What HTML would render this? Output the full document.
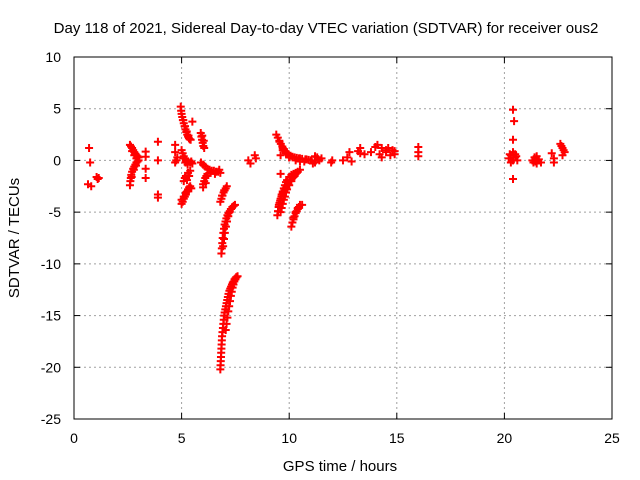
<!DOCTYPE html>
<html><head><meta charset="utf-8"><style>
body{margin:0;background:#fff;}
svg{display:block;font-family:"Liberation Sans",sans-serif;}
</style></head><body>
<svg id="chart" width="640" height="480" viewBox="0 0 640 480" xmlns="http://www.w3.org/2000/svg">
<rect width="640" height="480" fill="#fff"/>
<text x="326" y="33" font-size="15" text-anchor="middle">Day 118 of 2021, Sidereal Day-to-day VTEC variation (SDTVAR) for receiver ous2</text>
<g id="grid"></g>
<g id="axes"></g>
<g id="points"></g>
<text x="340" y="471" font-size="15" text-anchor="middle">GPS time / hours</text>
<text x="0" y="0" font-size="15" text-anchor="middle" transform="translate(19,238) rotate(-90)">SDTVAR / TECUs</text>
</svg>
<script>
const xTicks=[0,5,10,15,20,25];
const yTicks=[10,5,0,-5,-10,-15,-20,-25];
const xs=[0.7,0.75,0.65,0.8,1.1,1.05,1.15,
2.6,2.65,2.7,2.75,2.8,2.85,2.9,2.95,3.0,2.7,2.8,2.9,
2.6,2.62,2.64,2.66,2.7,2.75,2.8,2.85,2.9,2.95,3.0,2.68,2.78,2.88,
3.33,3.33,3.33,3.33,3.9,3.9,3.9,3.9,
4.7,4.7,4.75,4.8,4.7,
4.96,4.98,5.0,5.03,5.06,5.1,5.14,5.18,5.22,5.26,5.3,5.34,5.38,5.42,5.08,5.16,5.24,5.32,
5.0,5.05,5.1,5.15,5.2,5.3,5.4,5.5,5.08,5.18,5.28,5.45,
5.1,5.15,5.2,5.3,5.4,5.25,5.35,
5.0,5.05,5.1,5.15,5.2,5.25,5.3,5.35,5.4,5.0,5.1,5.2,5.3,5.45,
5.5,5.89,5.92,5.95,5.98,6.01,6.05,5.96,6.03,
5.9,6.0,6.1,6.0,6.05,6.1,6.15,6.2,6.0,6.12,
6.2,6.3,6.4,6.5,6.6,6.7,6.8,6.35,6.55,6.75,
6.8,6.85,6.9,6.95,7.0,7.05,7.1,6.88,6.98,
6.85,6.87,6.89,6.91,6.94,6.97,7.0,7.04,7.08,7.13,7.18,7.24,7.3,7.36,7.42,7.48,6.93,6.97,7.01,7.06,7.11,7.17,7.23,7.29,
6.8,6.81,6.82,6.83,6.84,6.85,6.86,6.87,6.88,6.9,6.92,6.94,6.96,6.98,7.0,7.03,7.06,7.09,7.12,7.15,7.18,7.22,7.26,7.3,7.34,7.38,7.42,7.46,7.5,7.55,7.6,
7.05,7.09,7.13,7.17,7.21,7.25,7.29,7.33,7.37,7.41,7.45,7.5,7.54,
8.1,8.2,8.4,8.45,
9.4,9.47,9.54,9.61,9.68,9.75,9.82,9.9,9.98,10.06,10.15,10.25,10.35,10.45,10.6,10.75,10.9,11.05,9.55,9.7,9.85,10.0,10.3,10.5,10.7,
10.0,10.5,11.0,11.2,11.3,11.4,11.5,11.1,11.2,11.35,10.8,
9.45,9.48,9.51,9.55,9.6,9.65,9.7,9.75,9.8,9.85,9.9,10.0,10.1,10.2,10.3,
9.6,9.65,9.7,9.75,9.8,9.85,9.9,10.0,10.1,10.2,10.3,10.4,10.5,
9.52,9.58,9.64,9.7,9.78,9.86,9.95,10.05,10.15,10.25,
10.1,10.15,10.2,10.25,10.3,10.35,10.4,10.45,10.5,10.6,10.2,10.3,10.4,
9.7,9.6,9.6,
12.0,11.95,12.5,12.7,12.8,12.9,13.2,13.3,13.5,13.8,14.0,14.1,14.3,14.5,14.8,14.9,14.3,14.5,14.7,16.0,16.0,16.0,13.3,14.2,14.6,14.9,
20.4,20.45,20.4,20.4,20.2,20.3,20.4,20.5,20.6,20.3,20.5,20.4,20.25,20.55,
21.3,21.4,21.5,21.6,21.7,21.5,21.45,21.55,21.35,
22.2,22.3,22.3,22.6,22.7,22.8,22.7,22.75,22.65];
const ys=[1.2,-0.2,-2.3,-2.5,-1.8,-1.6,-1.7,
1.5,1.35,1.2,1.0,0.8,0.65,0.5,0.4,0.3,0.9,0.5,0.2,
-2.4,-2.0,-1.7,-1.4,-1.1,-0.8,-0.6,-0.4,-0.2,-0.1,0.0,-1.6,-0.9,-0.5,
0.85,0.35,-0.8,-1.7,1.8,0.0,-3.3,-3.6,
1.5,0.8,0.0,0.3,-0.2,
5.2,4.8,4.5,4.2,3.9,3.6,3.3,3.0,2.75,2.5,2.3,2.15,2.05,2.0,3.9,3.3,2.8,2.4,
1.0,0.7,0.4,0.2,0.0,-0.1,-0.2,-0.3,0.2,-0.2,-0.4,-0.1,
-2.0,-1.7,-1.5,-1.2,-1.0,-1.9,-1.5,
-4.2,-4.0,-3.7,-3.5,-3.3,-3.0,-2.8,-2.6,-2.5,-3.8,-3.5,-3.1,-2.9,-2.7,
3.75,2.65,2.3,2.0,1.7,1.4,1.2,2.4,1.9,
-0.2,-0.4,-0.6,-2.3,-2.0,-1.7,-1.5,-1.3,-2.6,-2.2,
-0.8,-0.9,-1.0,-1.0,-1.1,-1.1,-1.2,-1.2,-1.3,-0.9,
-4.0,-3.7,-3.4,-3.1,-2.9,-2.7,-2.5,-3.4,-2.9,
-9.0,-8.5,-8.0,-7.5,-7.0,-6.6,-6.2,-5.9,-5.6,-5.3,-5.1,-4.9,-4.7,-4.5,-4.4,-4.3,-8.3,-7.6,-7.0,-6.4,-5.9,-5.4,-5.0,-4.7,
-20.2,-19.8,-19.4,-19.0,-18.6,-18.2,-17.8,-17.4,-17.0,-16.6,-16.2,-15.8,-15.4,-15.0,-14.7,-14.4,-14.1,-13.8,-13.5,-13.2,-12.9,-12.6,-12.4,-12.2,-12.0,-11.8,-11.7,-11.5,-11.4,-11.3,-11.2,
-16.4,-15.8,-15.2,-14.6,-14.1,-13.6,-13.1,-12.7,-12.3,-12.0,-11.7,-11.5,-11.3,
0.0,-0.3,0.5,0.2,
2.5,2.2,1.9,1.6,1.35,1.1,0.9,0.7,0.55,0.45,0.35,0.3,0.25,0.2,0.15,0.1,0.05,0.0,1.8,1.2,0.7,0.3,0.0,-0.1,-0.1,
0.3,0.2,0.0,-0.2,0.3,0.0,0.2,-0.3,0.4,0.1,0.1,
-5.3,-4.9,-4.5,-4.1,-3.7,-3.3,-3.0,-2.7,-2.4,-2.1,-1.9,-1.6,-1.4,-1.3,-1.2,
-5.0,-4.6,-4.2,-3.8,-3.5,-3.1,-2.8,-2.4,-2.0,-1.6,-1.3,-1.1,-0.9,
-4.3,-3.9,-3.5,-3.2,-2.9,-2.6,-2.3,-2.0,-1.7,-1.5,
-6.4,-6.0,-5.7,-5.4,-5.1,-4.9,-4.7,-4.5,-4.3,-4.3,-5.5,-5.0,-4.6,
1.0,0.5,-1.3,
0.0,-0.2,0.0,0.3,0.8,-0.1,0.9,1.2,0.6,0.8,1.3,1.5,1.2,0.8,1.0,0.9,0.3,1.0,0.5,1.3,0.8,0.4,0.7,0.6,1.2,0.6,
4.9,3.8,2.0,-1.8,0.2,0.5,0.8,0.3,0.0,-0.2,0.6,0.0,0.6,0.4,
0.0,0.3,-0.3,0.1,-0.2,0.4,-0.1,0.0,-0.2,
0.7,-0.2,0.2,1.6,1.2,0.8,0.5,1.0,1.4];
const X0=74,X1=612,Y0=419,Y1=57;
const sx=v=>X0+(v-0)/25*(X1-X0);
const sy=v=>Y0-(v+25)/35*(Y0-Y1);
const NS="http://www.w3.org/2000/svg";
const grid=document.getElementById('grid'),axes=document.getElementById('axes'),pts=document.getElementById('points');
function mk(tag,at,parent){const e=document.createElementNS(NS,tag);for(const k in at)e.setAttribute(k,at[k]);parent.appendChild(e);return e;}
xTicks.forEach(t=>{const x=sx(t);
 if(t>0&&t<25){const g=mk('line',{x1:x,x2:x,y1:Y1,y2:Y0,stroke:'#a0a0a0','stroke-dasharray':'2,3'},grid);
 
 }
 mk('line',{x1:x,x2:x,y1:Y0,y2:Y0-6,stroke:'#000'},axes);
 mk('line',{x1:x,x2:x,y1:Y1,y2:Y1+6,stroke:'#000'},axes);
 const l=mk('text',{x:x,y:443,'font-size':14,'text-anchor':'middle'},axes);l.textContent=t;
 
 
});
yTicks.forEach(t=>{const y=sy(t);
 if(t>-25&&t<10){const g=mk('line',{x1:X0,x2:X1,y1:y,y2:y,stroke:'#a0a0a0','stroke-dasharray':'2,3'},grid);
 
 }
 mk('line',{x1:X0,x2:X0+6,y1:y,y2:y,stroke:'#000'},axes);
 mk('line',{x1:X1,x2:X1-6,y1:y,y2:y,stroke:'#000'},axes);
 const l=mk('text',{x:61,y:y+5,'font-size':14,'text-anchor':'end'},axes);l.textContent=t;
 
 
});
const fr=mk('rect',{x:X0,y:Y1,width:X1-X0,height:Y0-Y1,fill:'none',stroke:'#000'},axes);


xs.forEach((v,i)=>{const x=sx(v),y=sy(ys[i]);
 const p=mk('path',{d:`M${x-4} ${y}H${x+4}M${x} ${y-4}V${y+4}`,stroke:'#f00','stroke-width':2,fill:'none'},pts);
 
 
});
</script>
</body></html>
